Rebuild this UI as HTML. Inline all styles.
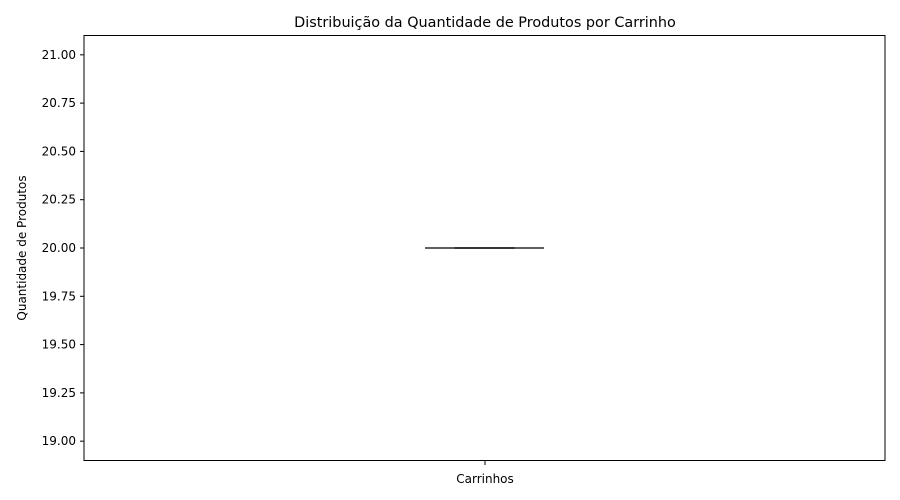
<!DOCTYPE html>
<html>
<head>
<meta charset="utf-8">
<style>
  html, body { margin: 0; padding: 0; background: #fff; }
  svg { display: block; font-family: "DejaVu Sans", "Liberation Sans", sans-serif; }
</style>
</head>
<body>
<svg id="chart" width="900" height="500" viewBox="0 0 900 500">
  <rect x="0" y="0" width="900" height="500" fill="#fff"/>
  <text x="485" y="27" text-anchor="middle" font-size="14.4" fill="#000">Distribuição da Quantidade de Produtos por Carrinho</text>
  <g id="yticks"></g>
  <g id="boxes"></g>
  <rect x="84" y="35.5" width="801" height="425" fill="none" stroke="#000" stroke-width="1"/>
  <line x1="485" y1="461" x2="485" y2="465" stroke="#000"/>
  <text x="485" y="483" text-anchor="middle" font-size="12">Carrinhos</text>
  <text transform="translate(26,248) rotate(-90)" text-anchor="middle" font-size="12">Quantidade de Produtos</text>
</svg>
<script>
const categories = ["Carrinhos"];
const minValues = [20];
const q1Values = [20];
const medianValues = [20];
const q3Values = [20];
const maxValues = [20];
const yTicks = [19.00, 19.25, 19.50, 19.75, 20.00, 20.25, 20.50, 20.75, 21.00];

const yMin = 18.9, yMax = 21.1, plotTop = 35.5, plotBottom = 460.5;
function yScale(v) { return plotBottom - (v - yMin) / (yMax - yMin) * (plotBottom - plotTop); }
const xLeft = 84, xRight = 885;
function xScale(i) { return xLeft + (i + 0.5) / categories.length * (xRight - xLeft); }

const ns = "http://www.w3.org/2000/svg";
const yg = document.getElementById("yticks");
yTicks.forEach(t => {
  const l = document.createElementNS(ns, "line");
  l.setAttribute("x1", 80); l.setAttribute("x2", 84);
  l.setAttribute("y1", yScale(t)); l.setAttribute("y2", yScale(t));
  l.setAttribute("stroke", "#000");
  
  
  yg.appendChild(l);
  const tx = document.createElementNS(ns, "text");
  tx.setAttribute("x", 76); tx.setAttribute("y", yScale(t) + 4);
  tx.setAttribute("text-anchor", "end"); tx.setAttribute("font-size", "12");
  tx.textContent = t.toFixed(2);
  
  
  yg.appendChild(tx);
});

const bg = document.getElementById("boxes");
categories.forEach((c, i) => {
  const cx = xScale(i), hw = 59.5, cw = 30;
  const box = document.createElementNS(ns, "rect");
  box.setAttribute("x", cx - hw); box.setAttribute("width", hw * 2);
  box.setAttribute("y", yScale(q3Values[i])); box.setAttribute("height", Math.max(0, yScale(q1Values[i]) - yScale(q3Values[i])));
  box.setAttribute("fill", "none"); box.setAttribute("stroke", "#000"); box.setAttribute("stroke-width", "1.2");
  
  
  bg.appendChild(box);
  const mk = (x1, x2, y1, y2, name, color) => {
    const l = document.createElementNS(ns, "line");
    l.setAttribute("x1", x1); l.setAttribute("x2", x2); l.setAttribute("y1", y1); l.setAttribute("y2", y2);
    l.setAttribute("stroke", color); l.setAttribute("stroke-width", "1.2");
    
    
    bg.appendChild(l);
  };
  mk(cx, cx, yScale(q3Values[i]), yScale(maxValues[i]), 'upper-whisker', '#000');
  mk(cx, cx, yScale(q1Values[i]), yScale(minValues[i]), 'lower-whisker', '#000');
  mk(cx - cw, cx + cw, yScale(maxValues[i]), yScale(maxValues[i]), 'upper-cap', '#000');
  mk(cx - cw, cx + cw, yScale(minValues[i]), yScale(minValues[i]), 'lower-cap', '#000');
  mk(cx - hw, cx + hw, yScale(medianValues[i]), yScale(medianValues[i]), 'median-line', '#000');
});
</script>
</body>
</html>
